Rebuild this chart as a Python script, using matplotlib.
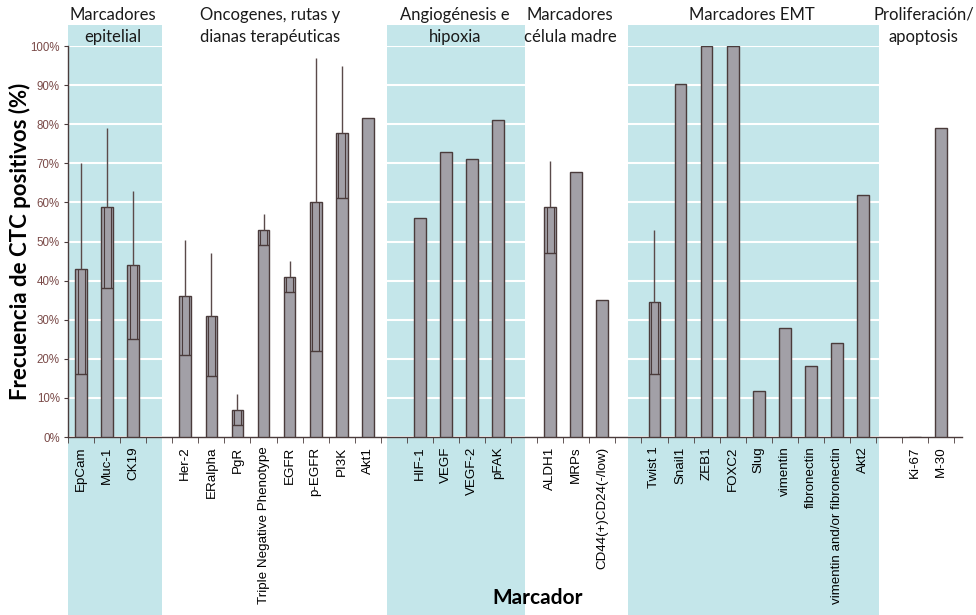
import numpy as np
import matplotlib
matplotlib.use('Agg')
import matplotlib.pyplot as plt
from matplotlib.patches import Rectangle
from matplotlib.transforms import blended_transform_factory

nan = np.nan

# one slot per marker, empty slots separate the groups
markers = ['EpCam', 'Muc-1', 'CK19', '',
           'Her-2', 'ERalpha', 'PgR', 'Triple Negative Phenotype', 'EGFR', 'p-EGFR', 'PI3K', 'Akt1', '',
           'HIF-1', 'VEGF', 'VEGF-2', 'pFAK', '',
           'ALDH1', 'MRPs', 'CD44(+)CD24(-/low)', '',
           'Twist 1', 'Snail1', 'ZEB1', 'FOXC2', 'Slug', 'vimentin', 'fibronectin',
           'vimentin and/or fibronectin', 'Akt2', '',
           'Ki-67', 'M-30']
freq = [43, 58.7, 44, nan,
        36, 31, 7, 53, 41, 60, 77.7, 81.5, nan,
        56, 73, 71, 81, nan,
        58.7, 67.8, 35, nan,
        34.5, 90.3, 100, 100, 11.8, 28, 18.2, 24, 62, nan,
        0, 79]
err_lo = [16, 38, 25, nan,
          21, 15.5, 3, 49, 37, 22, 61, nan, nan,
          nan, nan, nan, nan, nan,
          47, nan, nan, nan,
          16, nan, nan, nan, nan, nan, nan, nan, nan, nan,
          nan, nan]
err_hi = [70, 79, 63, nan,
          50.5, 47, 11, 57, 45, 97, 95, nan, nan,
          nan, nan, nan, nan, nan,
          70.5, nan, nan, nan,
          53, nan, nan, nan, nan, nan, nan, nan, nan, nan,
          nan, nan]

group_titles = ['Marcadores\nepitelial', 'Oncogenes, rutas y\ndianas terapéuticas',
                'Angiogénesis e\nhipoxia', 'Marcadores\ncélula madre',
                'Marcadores EMT', 'Proliferación/\napoptosis']

BAR = '#a2a0a7'
EDGE = '#4a3b3b'
BAND = '#c4e6ea'

fig = plt.figure(figsize=(9.76, 6.15), dpi=100)
ax = fig.add_axes([0.0697, 0.2894, 0.916, 0.6358])

x = np.arange(len(markers))
vals = np.array(freq, dtype=float)
lo = np.array(err_lo, dtype=float)
hi = np.array(err_hi, dtype=float)
w = 0.45

# shaded group bands run from the header down to the bottom of the figure
tr = blended_transform_factory(ax.transData, fig.transFigure)
for x0, x1 in [(-0.5, 3.1), (11.75, 17.05), (21.0, 30.6)]:
    ax.add_patch(Rectangle((x0, 0), x1 - x0, 0.959, transform=tr, facecolor=BAND,
                           edgecolor='none', clip_on=False, zorder=0.2))

# group headers; a one-line title sits on the first line
head_x = [1.23, 7.25, 14.35, 18.76, 25.75, 32.33]
for t, hx in zip(group_titles, head_x):
    hy = 0.9577 if '\n' in t else 0.9756
    ax.text(hx, hy, t, transform=tr, ha='center', va='center', fontsize=12,
            family='Lato', color='#1a1a1a', linespacing=1.5)

ok = ~np.isnan(vals)
ax.bar(x[ok], vals[ok], width=w, color=BAR, edgecolor=EDGE, linewidth=1, zorder=3)

# error bars: inner box from lower bound to the bar top, whisker up to the upper bound
for i in np.where(~np.isnan(lo))[0]:
    ax.hlines(lo[i], i - w / 2, i + w / 2, color=EDGE, lw=1, zorder=4)
    ax.vlines([i - w * 0.3, i + w * 0.3], lo[i], vals[i], color=EDGE, lw=0.8, zorder=4)
    ax.vlines(i, vals[i], hi[i], color='#5a4a4a', lw=1, zorder=4)

ax.set_xlim(-0.5, 33.8)
ax.set_ylim(0, 100)
ax.set_yticks(np.arange(0, 101, 10))
ax.set_yticklabels([f'{v}%' for v in range(0, 101, 10)], fontsize=8.3,
                   family='Liberation Sans', color='#7a4a48')
ax.yaxis.grid(True, color='white', lw=1.5)
ax.set_axisbelow(True)

ax.set_xticks(x)
ax.set_xticklabels(markers, rotation=90, fontsize=9.6, family='Liberation Sans')
ax.set_xticks(np.arange(-0.5, 34, 1), minor=True)
ax.tick_params(axis='x', which='major', length=0, pad=7)
ax.tick_params(axis='x', which='minor', length=4, direction='out', color=EDGE)
ax.tick_params(axis='y', length=3, color=EDGE, pad=3)

for s in ['top', 'right']:
    ax.spines[s].set_visible(False)
for s in ['left', 'bottom']:
    ax.spines[s].set_color(EDGE)
    ax.spines[s].set_linewidth(1)
ax.patch.set_alpha(0)

fig.text(0.02, 0.607, 'Frecuencia de CTC positivos (%)', rotation=90, ha='center', va='center',
         fontsize=16, fontweight='bold', family='Lato')
fig.text(0.551, 0.028, 'Marcador', ha='center', va='center', fontsize=15,
         fontweight='bold', family='Lato')

fig.savefig('out.png', dpi=100)
